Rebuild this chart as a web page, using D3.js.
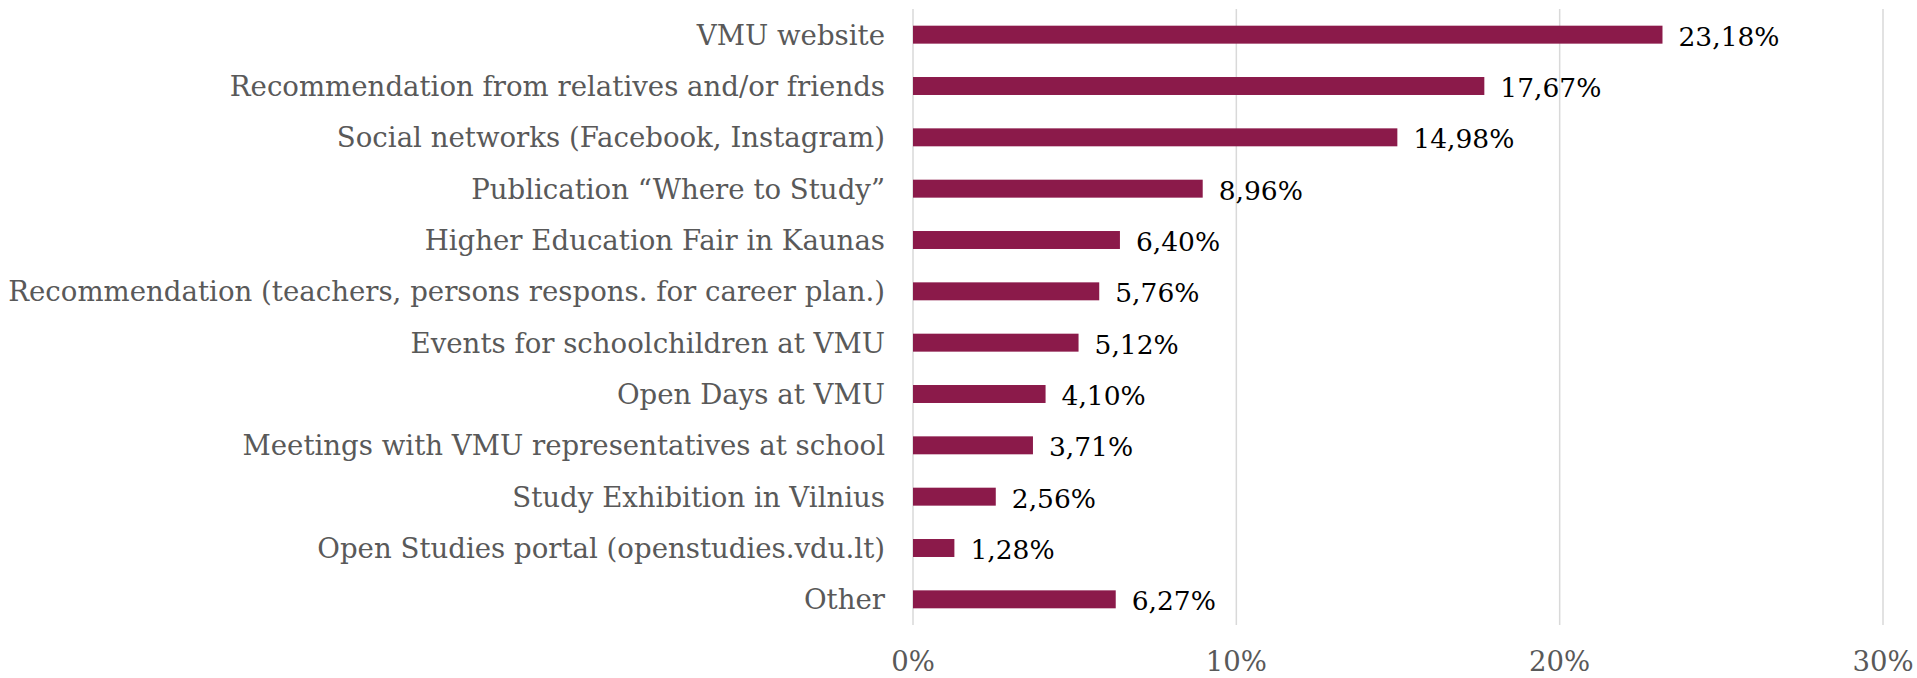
<!DOCTYPE html>
<html><head><meta charset="utf-8">
<script src="https://cdn.jsdelivr.net/npm/d3@7"></script>
<style>html,body{margin:0;padding:0;background:#fff;}svg{display:block;}</style>
</head><body>
<script>
const categories = [
  "VMU website",
  "Recommendation from relatives and/or friends",
  "Social networks (Facebook, Instagram)",
  "Publication \u201cWhere to Study\u201d",
  "Higher Education Fair in Kaunas",
  "Recommendation (teachers, persons respons. for career plan.)",
  "Events for schoolchildren at VMU",
  "Open Days at VMU",
  "Meetings with VMU representatives at school",
  "Study Exhibition in Vilnius",
  "Open Studies portal (openstudies.vdu.lt)",
  "Other"
];
const values = [23.18, 17.67, 14.98, 8.96, 6.40, 5.76, 5.12, 4.10, 3.71, 2.56, 1.28, 6.27];
const tickValues = [0, 10, 20, 30];
const tickLabels = ["0%", "10%", "20%", "30%"];

const W = 1917, H = 678;
const svg = d3.select("body").append("svg").attr("width", W).attr("height", H);
const font = "'DejaVu Serif', 'Liberation Serif', serif";

const x = d3.scaleLinear().domain([0, 30]).range([913, 1883]);
const y = d3.scaleBand().domain(categories).range([9, 625]).paddingInner(0.65).paddingOuter(0.325);

// gridlines
svg.append("g").selectAll("line").data(tickValues).join("line")
  .attr("x1", d => x(d)).attr("x2", d => x(d))
  .attr("y1", 9).attr("y2", 625)
  .attr("stroke", "#d9d9d9").attr("stroke-width", 1.5);

// tick labels
svg.append("g").selectAll("text").data(tickValues).join("text")
  .attr("x", d => x(d)).attr("y", 671)
  .attr("text-anchor", "middle")
  .attr("font-family", font).attr("font-size", 27.5).attr("fill", "#595959")
  .text((d, i) => tickLabels[i]);

// bars
svg.append("g").selectAll("rect").data(values).join("rect")
  .attr("x", x(0)).attr("y", (d, i) => y(categories[i]))
  .attr("width", d => x(d) - x(0)).attr("height", y.bandwidth())
  .attr("fill", "#8b1a4a");

// category labels
svg.append("g").selectAll("text").data(categories).join("text")
  .attr("x", 885).attr("y", d => y(d) + y.bandwidth() / 2 + 10)
  .attr("text-anchor", "end")
  .attr("font-family", font).attr("font-size", 27.6).attr("fill", "#595959")
  .text(d => d);

// value labels
svg.append("g").selectAll("text").data(values).join("text")
  .attr("x", d => x(d) + 16).attr("y", (d, i) => y(categories[i]) + y.bandwidth() / 2 + 11)
  .attr("font-family", font).attr("font-size", 26.5).attr("fill", "#000")
  .text(d => d.toFixed(2).replace(".", ",") + "%");
</script>
</body></html>
